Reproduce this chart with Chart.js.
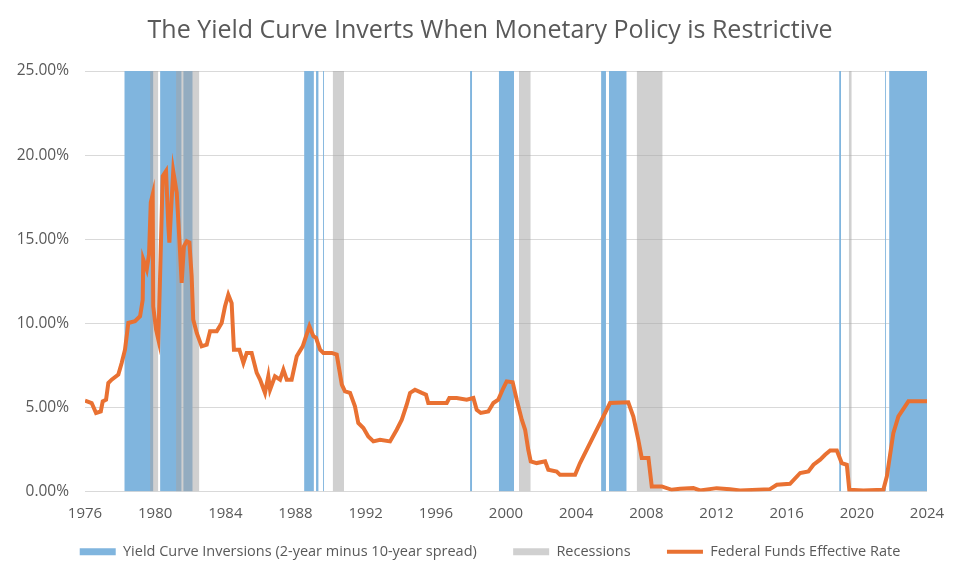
<!DOCTYPE html>
<html>
<head>
<meta charset="utf-8">
<script src="https://cdn.jsdelivr.net/npm/chart.js@4/dist/chart.umd.min.js"></script>
<style>
  html, body { margin: 0; padding: 0; background: #fff; }
  #wrap { width: 980px; height: 579px; }
</style>
</head>
<body>
<div id="wrap"><canvas id="chart" width="980" height="579"></canvas></div>
<script>
// x ticks (years)
var yearTicks = [1976, 1980, 1984, 1988, 1992, 1996, 2000, 2004, 2008, 2012, 2016, 2020, 2024];

// yield curve inversions (2y - 10y), decimal years
var invStart = [1978.24, 1980.28, 1981.60, 1988.49, 1989.17, 1989.57, 1997.95, 1999.59, 2005.42, 2005.87, 2018.99, 2021.61, 2021.84];
var invEnd   = [1979.90, 1981.51, 1982.14, 1989.05, 1989.32, 1989.63, 1998.07, 2000.46, 2005.70, 2006.88, 2019.10, 2021.67, 2024.00];

// recessions
var recStart = [1979.71, 1981.19, 1990.12, 2000.74, 2007.45, 2019.54];
var recEnd   = [1980.18, 1982.52, 1990.77, 2001.41, 2008.93, 2019.71];

// federal funds effective rate (%)
var fedYears = [1976.00, 1976.38, 1976.63, 1976.90, 1977.01, 1977.20, 1977.33, 1977.52, 1977.90, 1978.09,
  1978.28, 1978.47, 1978.85, 1979.14, 1979.29, 1979.32, 1979.52, 1979.65, 1979.75, 1979.86,
  1979.89, 1980.05, 1980.18, 1980.28, 1980.43, 1980.62, 1980.75, 1980.81, 1980.89, 1981.03,
  1981.23, 1981.38, 1981.51, 1981.64, 1981.80, 1981.95, 1982.08, 1982.17, 1982.37, 1982.65,
  1982.94, 1983.13, 1983.51, 1983.79, 1983.98, 1984.17, 1984.36, 1984.49, 1984.80, 1985.03,
  1985.22, 1985.50, 1985.79, 1985.98, 1986.26, 1986.45, 1986.55, 1986.83, 1987.12, 1987.31,
  1987.50, 1987.78, 1988.07, 1988.41, 1988.79, 1989.02, 1989.17, 1989.40, 1989.59, 1990.07,
  1990.35, 1990.64, 1990.82, 1991.11, 1991.39, 1991.58, 1991.87, 1992.15, 1992.44, 1992.82,
  1993.39, 1993.77, 1994.06, 1994.34, 1994.53, 1994.81, 1995.20, 1995.44, 1995.57, 1996.05,
  1996.62, 1996.77, 1997.19, 1997.76, 1998.14, 1998.33, 1998.56, 1998.99, 1999.28, 1999.56,
  1999.85, 2000.04, 2000.38, 2000.61, 2000.90, 2001.09, 2001.27, 2001.41, 2001.75, 2002.23,
  2002.41, 2002.89, 2003.08, 2003.94, 2004.22, 2004.79, 2005.36, 2005.93, 2006.97, 2007.26,
  2007.54, 2007.74, 2008.12, 2008.31, 2008.88, 2009.45, 2009.92, 2010.68, 2011.06, 2012.01,
  2012.77, 2013.34, 2015.05, 2015.44, 2016.19, 2016.77, 2017.24, 2017.53, 2017.91, 2018.19,
  2018.48, 2018.86, 2019.14, 2019.43, 2019.57, 2020.37, 2021.51, 2021.71, 2022.08, 2022.37,
  2022.75, 2022.94, 2024.00];
var fedRates = [5.40, 5.26, 4.67, 4.76, 5.36, 5.46, 6.45, 6.65, 6.95, 7.64,
  8.43, 10.02, 10.12, 10.42, 11.40, 13.80, 13.20, 14.10, 17.20, 17.66,
  11.00, 9.63, 9.03, 12.80, 18.75, 19.05, 15.77, 14.80, 16.40, 19.05,
  17.76, 14.98, 12.40, 14.58, 14.88, 14.80, 12.80, 10.22, 9.43, 8.63,
  8.73, 9.52, 9.52, 10.02, 11.00, 11.70, 11.20, 8.43, 8.43, 7.64,
  8.24, 8.24, 7.05, 6.65, 5.86, 6.85, 6.05, 6.85, 6.65, 7.24,
  6.65, 6.65, 8.04, 8.63, 9.82, 9.23, 9.13, 8.43, 8.24, 8.24,
  8.14, 6.35, 5.95, 5.86, 5.06, 4.07, 3.77, 3.27, 2.98, 3.08,
  2.98, 3.67, 4.27, 5.16, 5.86, 6.05, 5.86, 5.76, 5.26, 5.26,
  5.26, 5.56, 5.56, 5.46, 5.56, 4.86, 4.67, 4.76, 5.26, 5.46,
  6.15, 6.55, 6.50, 5.46, 4.27, 3.67, 2.48, 1.79, 1.69, 1.79,
  1.29, 1.19, 0.99, 0.99, 1.69, 2.88, 4.07, 5.26, 5.30, 4.46,
  3.08, 1.99, 1.99, 0.30, 0.30, 0.10, 0.16, 0.20, 0.06, 0.20,
  0.14, 0.06, 0.14, 0.40, 0.46, 1.10, 1.19, 1.59, 1.89, 2.18,
  2.44, 2.44, 1.69, 1.59, 0.10, 0.06, 0.10, 0.89, 3.47, 4.46,
  5.06, 5.36, 5.36];

var blue = 'rgb(128,181,222)';
var grey = 'rgba(164,164,164,0.52)';
var orange = '#E97132';
var textGrey = '#595959';
var gap = '       '; // extra room between legend entries

var datasets = [];

datasets.push({
  label: 'Federal Funds Effective Rate',
  data: fedYears.map(function (y, i) { return {x: y, y: fedRates[i]}; }),
  borderColor: orange,
  backgroundColor: orange,
  borderWidth: 4,
  pointRadius: 0,
  tension: 0,
  fill: false,
  order: 0
});

function band(s, e, color, order, name) {
  return {
    label: name,
    data: [{x: s, y: 25}, {x: e, y: 25}],
    borderColor: 'transparent',
    borderWidth: 1,
    backgroundColor: color,
    pointRadius: 0,
    fill: 'origin',
    order: order
  };
}

for (var i = 0; i < recStart.length; i++)
  datasets.push(band(recStart[i], recEnd[i], grey, 1, 'Recessions'));
for (var i = 0; i < invStart.length; i++)
  datasets.push(band(invStart[i], invEnd[i], blue, 2, 'Yield Curve Inversions'));

var config = {
  type: 'line',
  data: { datasets: datasets },
  options: {
    responsive: false,
    animation: false,
    layout: { padding: { left: 0, right: 0, top: 0, bottom: 10 } },
    plugins: {
      tooltip: { enabled: false },
      title: {
        display: true,
        text: 'The Yield Curve Inverts When Monetary Policy is Restrictive',
        color: textGrey,
        font: { family: 'Open Sans', size: 25, weight: 'normal' },
        padding: { top: 16, bottom: 25 }
      },
      legend: {
        position: 'bottom',
        labels: {
          usePointStyle: true,
          pointStyleWidth: 36,
          boxHeight: 7,
          padding: 10,
          color: textGrey,
          font: { family: 'Open Sans', size: 14.5 },
          generateLabels: function () {
            return [
              { text: 'Yield Curve Inversions (2-year minus 10-year spread)' + gap, fillStyle: blue, strokeStyle: blue, lineWidth: 0, pointStyle: 'rect', fontColor: textGrey },
              { text: 'Recessions' + gap, fillStyle: '#d0d0d0', strokeStyle: '#d0d0d0', lineWidth: 0, pointStyle: 'rect', fontColor: textGrey },
              { text: 'Federal Funds Effective Rate', fillStyle: orange, strokeStyle: orange, lineWidth: 4, pointStyle: 'line', fontColor: textGrey }
            ];
          }
        }
      }
    },
    scales: {
      x: {
        type: 'linear',
        min: 1976,
        max: 2024,
        afterFit: function (s) { s.height = 43; },
        afterBuildTicks: function (s) { s.ticks = yearTicks.map(function (v) { return {value: v}; }); },
        ticks: {
          color: textGrey,
          font: { family: 'Open Sans', size: 15 },
          padding: 13,
          maxRotation: 0,
          autoSkip: false,
          callback: function (v) { return String(v); }
        },
        grid: { display: false, drawTicks: false },
        border: { display: false }
      },
      y: {
        min: 0,
        max: 25,
        afterFit: function (s) { s.width = 85; },
        ticks: {
          stepSize: 5,
          color: textGrey,
          font: { family: 'Open Sans', size: 15.5 },
          padding: 16,
          callback: function (v) { return v.toFixed(2) + '%'; }
        },
        grid: { color: '#d9d9d9', lineWidth: 1, drawTicks: false },
        border: { display: false }
      },
      // empty right-hand axis, only reserves the margin on the right
      yR: {
        position: 'right',
        afterFit: function (s) { s.width = 53; },
        ticks: { display: false },
        grid: { display: false, drawTicks: false },
        border: { display: false }
      }
    }
  }
};

var ctx = document.getElementById('chart').getContext('2d');
var myChart = new Chart(ctx, config);
</script>
</body>
</html>
